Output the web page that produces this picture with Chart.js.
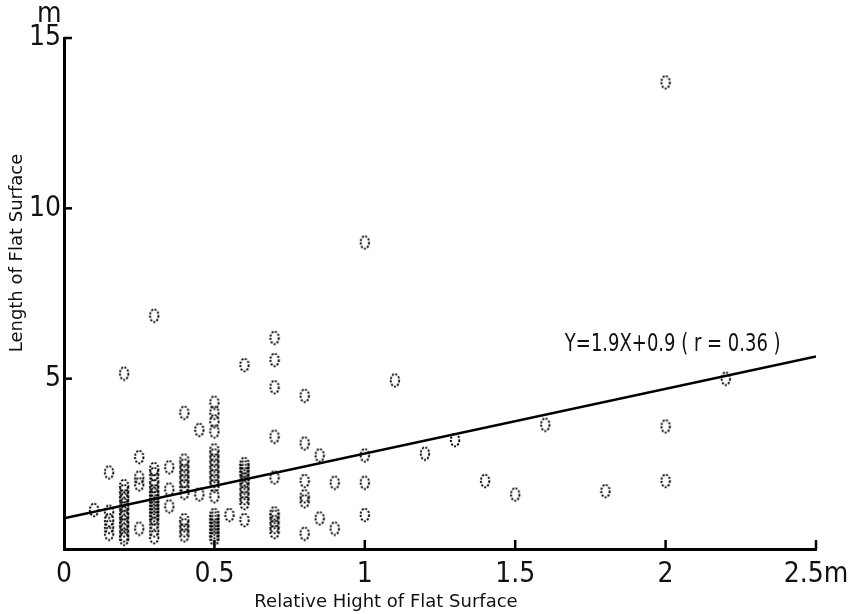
<!DOCTYPE html>
<html>
<head>
<meta charset="utf-8">
<script src="https://cdn.jsdelivr.net/npm/chart.js@4.4.1/dist/chart.umd.min.js"></script>
<style>
  html, body { margin: 0; padding: 0; background: #fff; }
</style>
</head>
<body>
<canvas id="chart" width="864" height="614"></canvas>
<script>
// relative height of flat surface (m) - one entry per column of points
const columnX = [0.1, 0.15, 0.2, 0.25, 0.3, 0.35, 0.4, 0.45, 0.5, 0.55, 0.6, 0.7,
                 0.8, 0.85, 0.9, 1.0, 1.1, 1.2, 1.3, 1.4, 1.5, 1.6, 1.8, 2.0, 2.2];
// length of flat surface (m) for each column
const columnY = [
    [1.15],
    [2.25, 1.1, 0.85, 0.65, 0.45],
    [5.15, 1.85, 1.7, 1.55, 1.45, 1.3, 1.2, 1.05, 0.95, 0.8, 0.7, 0.55, 0.4, 0.3],
    [2.7, 2.1, 1.9, 0.6],
    [6.85, 2.35, 2.2, 2.0, 1.85, 1.7, 1.6, 1.5, 1.4, 1.3, 1.2, 1.1, 1.0, 0.9, 0.75, 0.55, 0.35],
    [2.4, 1.75, 1.25],
    [4.0, 2.6, 2.45, 2.3, 2.15, 2.0, 1.85, 1.65, 0.85, 0.7, 0.55, 0.4],
    [3.5, 1.6],
    [4.3, 4.0, 3.75, 3.45, 2.9, 2.75, 2.6, 2.45, 2.3, 2.15, 2.0, 1.85, 1.55,
     1.0, 0.9, 0.8, 0.7, 0.6, 0.5, 0.4, 0.3],
    [1.0],
    [5.4, 2.5, 2.4, 2.3, 2.2, 2.05, 1.95, 1.8, 1.65, 1.5, 1.35, 0.85],
    [6.2, 5.55, 4.75, 3.3, 2.1, 1.05, 0.95, 0.8, 0.65, 0.5],
    [4.5, 3.1, 2.0, 1.55, 1.4, 0.45],
    [2.75, 0.9],
    [1.95, 0.6],
    [9.0, 2.75, 1.95, 1.0],
    [4.95],
    [2.8],
    [3.2],
    [2.0],
    [1.6],
    [3.65],
    [1.7],
    [13.7, 3.6, 2.0],
    [5.0]
];
// regression line Y=1.9X+0.9, end points
const fitX = [0, 2.5];
const fitY = [0.9, 5.65];
const xTickValues = [0.5, 1, 1.5, 2, 2.5];
const yTickValues = [5, 10, 15];

const NARROW = "'Liberation Sans Narrow', 'DejaVu Sans Condensed', 'DejaVu Sans', sans-serif";
const PLAIN = "'DejaVu Sans', sans-serif";

const points = [];
columnX.forEach((x, i) => {
    columnY[i].forEach(y => points.push({ x: x, y: y }));
});
const fitLine = fitX.map((x, i) => ({ x: x, y: fitY[i] }));

// dotted oval marker like the printed figure
function makeOval() {
    const c = document.createElement('canvas');
    c.width = 12;
    c.height = 16;
    const g = c.getContext('2d');
    g.strokeStyle = '#000';
    g.lineWidth = 1.9;
    g.setLineDash([2, 1.5]);
    g.beginPath();
    g.ellipse(6, 8, 4.2, 6.2, 0, 0, Math.PI * 2);
    g.stroke();
    return c;
}

// inward ticks, unit mark, axis titles and the equation
const decorations = {
    id: 'decorations',
    afterDatasetsDraw(chart) {
        const ctx = chart.ctx;
        const xs = chart.scales.x;
        const ys = chart.scales.y;
        const area = chart.chartArea;
        ctx.save();
        ctx.strokeStyle = '#000';
        ctx.lineWidth = 2.5;
        xTickValues.forEach(v => {
            const px = xs.getPixelForValue(v);
            ctx.beginPath();
            ctx.moveTo(px, area.bottom);
            ctx.lineTo(px, area.bottom - 9);
            ctx.stroke();
        });
        yTickValues.forEach(v => {
            const py = ys.getPixelForValue(v);
            ctx.beginPath();
            ctx.moveTo(area.left, py);
            ctx.lineTo(area.left + 8, py);
            ctx.stroke();
        });

        ctx.fillStyle = '#111';
        ctx.font = '28px ' + NARROW;
        ctx.textAlign = 'left';
        ctx.textBaseline = 'alphabetic';
        ctx.fillText('m', 37, 22);

        // condensed equation label
        ctx.save();
        ctx.translate(xs.getPixelForValue(1.665), ys.getPixelForValue(5.8));
        ctx.scale(0.8, 1);
        ctx.font = '25px ' + NARROW;
        ctx.fillText('Y=1.9X+0.9 ( r = 0.36 )', 0, 0);
        ctx.restore();

        ctx.font = '18px ' + PLAIN;
        ctx.textAlign = 'center';
        ctx.fillText('Relative Hight of Flat Surface', 386, 607);

        ctx.translate(22, 253);
        ctx.rotate(-Math.PI / 2);
        ctx.fillText('Length of Flat Surface', 0, 0);
        ctx.restore();
    }
};

new Chart(document.getElementById('chart'), {
    type: 'scatter',
    data: {
        datasets: [
            {
                type: 'line',
                data: fitLine,
                borderColor: '#000',
                borderWidth: 2.5,
                pointRadius: 0,
                fill: false,
                order: 0
            },
            {
                data: points,
                pointStyle: makeOval(),
                pointRadius: 6,
                order: 1
            }
        ]
    },
    options: {
        responsive: false,
        animation: false,
        layout: { padding: { left: 0, right: 48, top: 38, bottom: 0 } },
        plugins: {
            legend: { display: false },
            tooltip: { enabled: false }
        },
        scales: {
            x: {
                type: 'linear',
                min: 0,
                max: 2.5,
                grid: { display: false, drawTicks: false },
                border: { display: true, color: '#000', width: 3 },
                ticks: {
                    stepSize: 0.5,
                    padding: 9,
                    color: '#111',
                    font: { family: NARROW, size: 28 },
                    callback: v => v === 2.5 ? '2.5m' : String(v)
                },
                afterFit: scale => { scale.height = 65; }
            },
            y: {
                type: 'linear',
                min: 0,
                max: 15,
                grid: { display: false, drawTicks: false },
                border: { display: true, color: '#000', width: 3 },
                ticks: {
                    stepSize: 5,
                    padding: 3,
                    color: '#111',
                    font: { family: NARROW, size: 28 },
                    callback: v => v === 0 ? '' : String(v)
                },
                afterFit: scale => { scale.width = 64; }
            }
        }
    },
    plugins: [decorations]
});
</script>
</body>
</html>
